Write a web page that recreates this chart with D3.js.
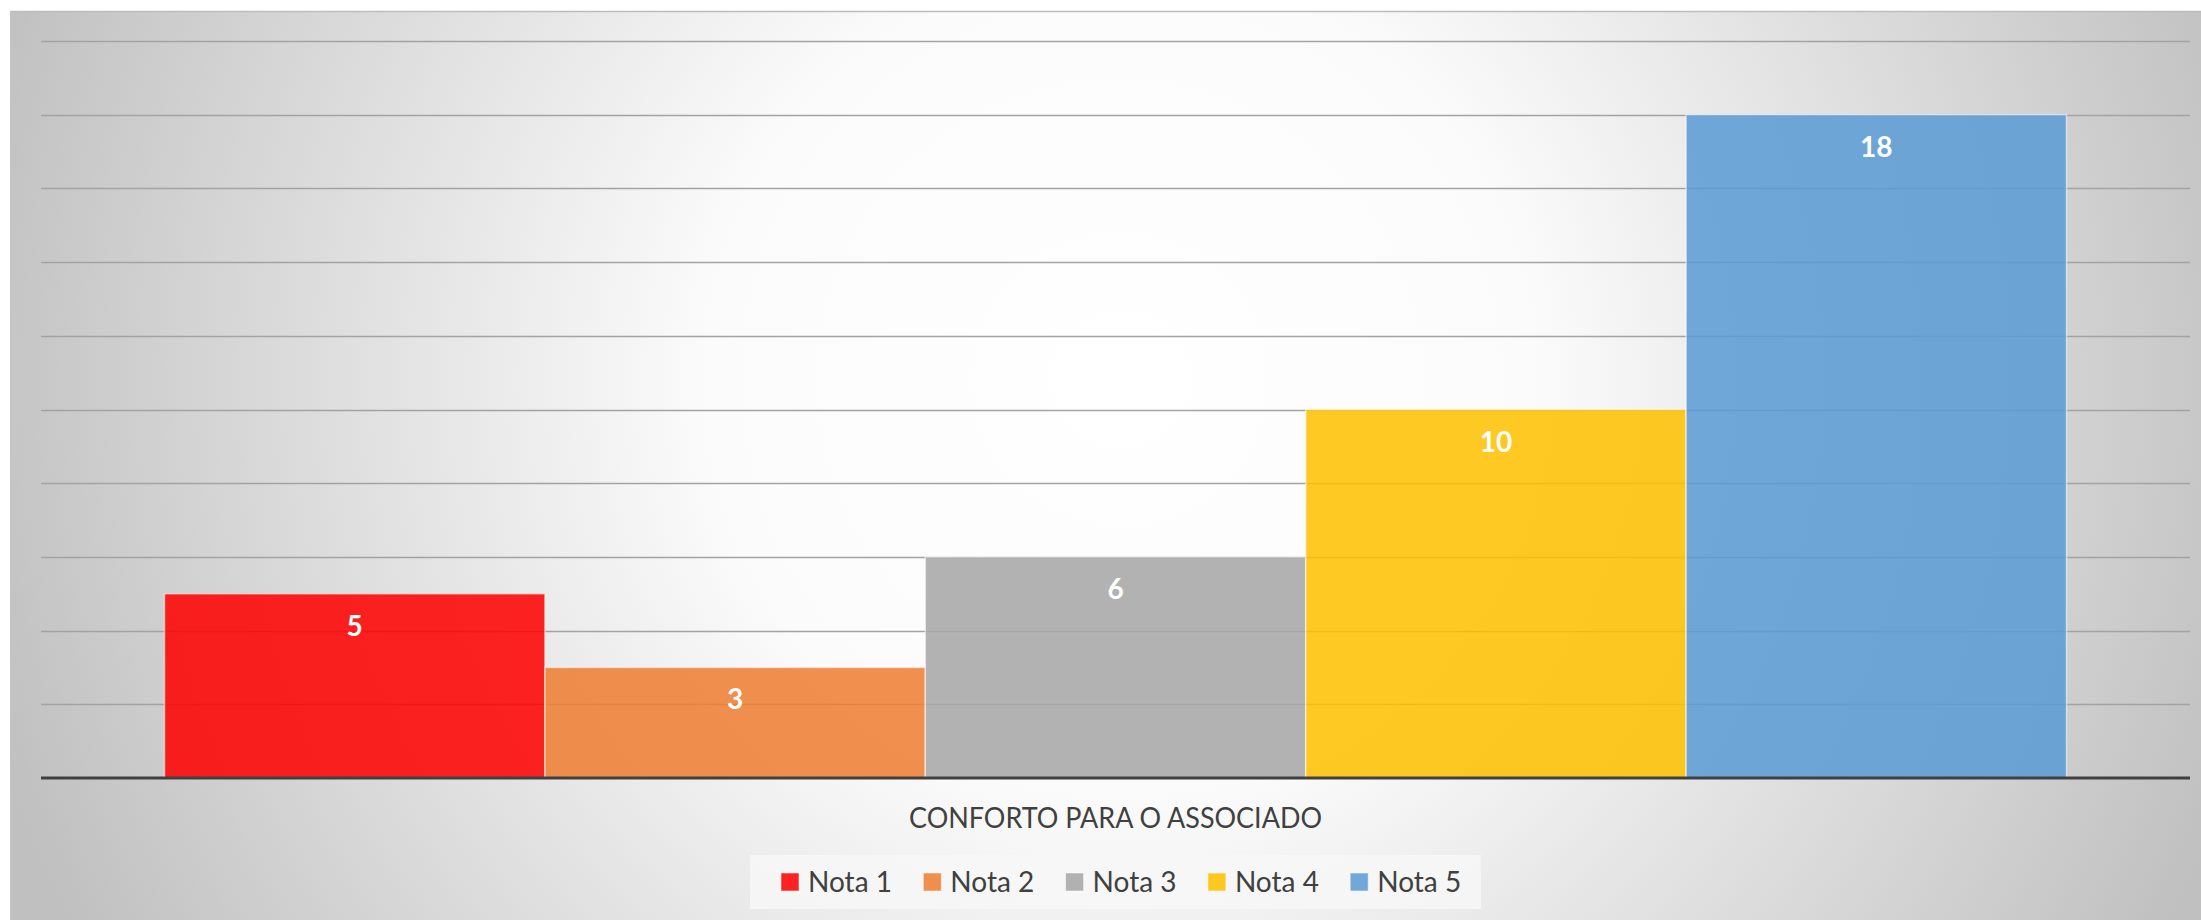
<!DOCTYPE html>
<html>
<head>
<meta charset="utf-8">
<script src="https://cdn.jsdelivr.net/npm/d3@7/dist/d3.min.js"></script>
<style>
html,body{margin:0;padding:0;background:#fff;overflow:hidden;}
svg{display:block;}
</style>
</head>
<body>
<svg id="chart" width="2201" height="920"></svg>
<script>
// ---- data ----
const categoryLabel = "CONFORTO PARA O ASSOCIADO";
const seriesNames = ["Nota 1", "Nota 2", "Nota 3", "Nota 4", "Nota 5"];
const seriesValues = [5, 3, 6, 10, 18];
const seriesColors = ["#ff0000", "#ed7d31", "#a5a5a5", "#ffc000", "#5b9bd5"];
const yTicks = [0, 2, 4, 6, 8, 10, 12, 14, 16, 18, 20];

const W = 2201, H = 920;
const svg = d3.select("#chart");
const defs = svg.append("defs");

const grad = defs.append("radialGradient")
  .attr("id", "bg").attr("gradientUnits", "userSpaceOnUse")
  .attr("cx", 1120).attr("cy", 380).attr("r", 1180);
grad.append("stop").attr("offset", 0).attr("stop-color", "#ffffff");
grad.append("stop").attr("offset", 0.35).attr("stop-color", "#fbfbfb");
grad.append("stop").attr("offset", 1).attr("stop-color", "#c0c0c0");

svg.append("rect").attr("x", 10).attr("y", 11).attr("width", W - 10).attr("height", H - 11)
  .attr("fill", "url(#bg)");
svg.append("line").attr("x1", 10).attr("x2", W).attr("y1", 11.5).attr("y2", 11.5)
  .attr("stroke", "#bdbdbd").attr("stroke-width", 1.5);
svg.append("line").attr("x1", 10.5).attr("x2", 10.5).attr("y1", 11).attr("y2", H)
  .attr("stroke", "#c4c4c4").attr("stroke-width", 1);

const plot = {left: 41, right: 2190, top: 41, bottom: 778};

const x = d3.scaleBand().domain(seriesNames)
  .range([plot.left, plot.right]).paddingInner(0).paddingOuter(0.3247);
const y = d3.scaleLinear().domain([0, 20]).range([plot.bottom, plot.top]);

// gridlines
svg.append("g").selectAll("line").data(yTicks.filter(d => d > 0)).join("line")
  .attr("x1", plot.left).attr("x2", plot.right)
  .attr("y1", d => Math.round(y(d)) + 0.5).attr("y2", d => Math.round(y(d)) + 0.5)
  .attr("stroke", "#a3a3a3").attr("stroke-width", 1.4);

// bars
const data = seriesNames.map((n, i) => ({name: n, value: seriesValues[i], color: seriesColors[i]}));
svg.append("g").selectAll("rect").data(data).join("rect")
  .attr("x", d => x(d.name)).attr("width", x.bandwidth())
  .attr("y", d => y(d.value)).attr("height", d => y(0) - y(d.value))
  .attr("fill", d => d.color).attr("fill-opacity", 0.86)
  .attr("stroke", "#ffffff").attr("stroke-opacity", 0.55).attr("stroke-width", 1.5);

// axis line
svg.append("line").attr("x1", plot.left).attr("x2", plot.right)
  .attr("y1", y(0)).attr("y2", y(0))
  .attr("stroke", "#404040").attr("stroke-width", 3.2);

// value labels
svg.append("g").selectAll("text").data(data).join("text")
  .attr("x", d => x(d.name) + x.bandwidth() / 2)
  .attr("y", d => y(d.value) + 42)
  .attr("text-anchor", "middle")
  .attr("font-family", "Lato, 'Open Sans', sans-serif")
  .attr("font-weight", "bold").attr("font-size", 28)
  .attr("fill", "#ffffff")
  .text(d => d.value);

// category label
svg.append("text")
  .attr("x", (plot.left + plot.right) / 2).attr("y", 828)
  .attr("text-anchor", "middle")
  .attr("font-family", "Lato, 'Open Sans', sans-serif")
  .attr("font-size", 29).attr("fill", "#404040")
  .attr("textLength", 413).attr("lengthAdjust", "spacingAndGlyphs")
  .text(categoryLabel);

// legend
svg.append("rect").attr("x", 750).attr("y", 855).attr("width", 731).attr("height", 54)
  .attr("fill", "#f7f7f7").attr("fill-opacity", 0.85);
const lg = svg.append("g").selectAll("g").data(data).join("g")
  .attr("transform", (d, i) => `translate(${781 + i * 142.3},873)`);
lg.append("rect").attr("width", 18).attr("height", 18)
  .attr("fill", d => d.color).attr("fill-opacity", 0.86)
  .attr("stroke", "#ffffff").attr("stroke-opacity", 0.5).attr("stroke-width", 1);
lg.append("text").attr("x", 27).attr("y", 19)
  .attr("font-family", "Lato, 'Open Sans', sans-serif")
  .attr("font-size", 29).attr("fill", "#404040")
  .attr("textLength", 84).attr("lengthAdjust", "spacingAndGlyphs")
  .text(d => d.name);
</script>
</body>
</html>
